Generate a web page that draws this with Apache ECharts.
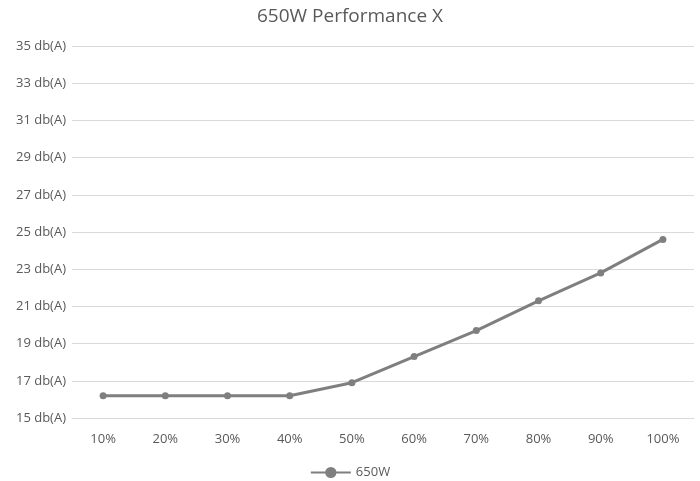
<!DOCTYPE html>
<html>
<head>
<meta charset="utf-8">
<script src="https://cdn.jsdelivr.net/npm/echarts@6/dist/echarts.min.js"></script>
<style>html,body{margin:0;padding:0;background:#fff}#container{width:700px;height:481px}</style>
</head>
<body>
<div id="container"></div>
<script>
var categories = ['10%', '20%', '30%', '40%', '50%', '60%', '70%', '80%', '90%', '100%'];
var noise650 = [16.2, 16.2, 16.2, 16.2, 16.9, 18.3, 19.7, 21.3, 22.8, 24.6];

var myChart = echarts.init(document.getElementById('container'), null, { renderer: 'canvas' });

myChart.setOption({
    animation: false,
    textStyle: { fontFamily: 'Open Sans' },
    title: {
        text: '650W Performance X',
        left: 'center',
        top: 2,
        textStyle: { fontSize: 19, fontWeight: 'normal', color: '#595959' }
    },
    legend: {
        bottom: -3,
        left: 'center',
        itemWidth: 40,
        itemGap: 4,
        textStyle: { color: '#595959', fontSize: 13 },
        data: ['650W']
    },
    grid: { left: 72, right: 6, top: 46, bottom: 63 },
    xAxis: {
        type: 'category',
        data: categories,
        axisLine: { lineStyle: { color: '#d9d9d9' } },
        axisTick: { show: false },
        axisLabel: { color: '#595959', fontSize: 13, margin: 15 }
    },
    yAxis: {
        type: 'value',
        min: 15,
        max: 35,
        interval: 2,
        axisLine: { show: false },
        axisTick: { show: false },
        splitLine: { lineStyle: { color: '#d9d9d9' } },
        axisLabel: {
            color: '#595959',
            fontSize: 13,
            margin: 6,
            formatter: function (v) { return v + ' db(A)'; }
        }
    },
    series: [{
        name: '650W',
        type: 'line',
        data: noise650,
        symbol: 'circle',
        symbolSize: 7,
        lineStyle: { color: '#7f7f7f', width: 3 },
        itemStyle: { color: '#7f7f7f' }
    }]
});
</script>
</body>
</html>
